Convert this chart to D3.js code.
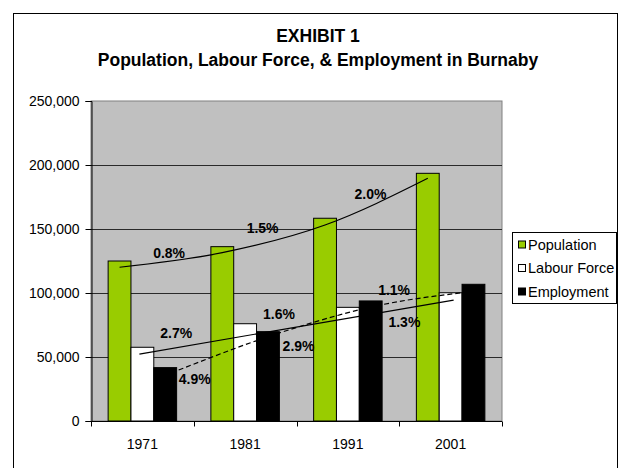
<!DOCTYPE html>
<html>
<head>
<meta charset="utf-8">
<script src="https://cdn.jsdelivr.net/npm/d3@7"></script>
<style>
  html, body { margin: 0; padding: 0; background: #fff; }
  svg { display: block; font-family: Arial, "Liberation Sans", sans-serif; }
</style>
</head>
<body>
<svg id="chart" width="621" height="468"></svg>
<script>
// Census years and the three series (persons)
const years = ["1971", "1981", "1991", "2001"];
const population = [125000, 136200, 158400, 193500];
const labourForce = [57600, 76000, 88800, 100200];
const employment = [41700, 69800, 93800, 106800];

// Growth-trend guides drawn over each series
const populationTrend = [120100, 131500, 153100, 189600];
const labourTrend = [52300, 94500];          // 1971 → 2001
const employmentTrend = [39800, 69300, 91200, 100200];

// Average annual growth rates, anchored at [category position, value]
const growthText = ["0.8%", "1.5%", "2.0%", "2.7%", "1.6%", "4.9%", "2.9%", "1.1%", "1.3%"];
const growthAt = [
  [0.76, 131600], [1.67, 150800], [2.72, 177300],
  [0.83, 68400], [1.83, 83600],
  [1.01, 32800], [2.02, 58600],
  [2.95, 102300], [3.05, 77700]
];

const yTicks = [0, 50000, 100000, 150000, 200000, 250000];

const seriesNames = ["Population", "Labour Force", "Employment"];
const seriesFill = ["#99cc00", "#ffffff", "#000000"];
const seriesValues = [population, labourForce, employment];

const svg = d3.select("#chart");

// outer chart frame
svg.append("rect")
  .attr("x", 13.5).attr("y", 13.5)
  .attr("width", 604).attr("height", 470)
  .attr("fill", "#fff").attr("stroke", "#000").attr("stroke-width", 1);

// titles
svg.append("text").attr("x", 318).attr("y", 42)
  .attr("text-anchor", "middle").attr("font-size", 17.5).attr("font-weight", "bold")
  .text("EXHIBIT 1");
svg.append("text").attr("x", 318).attr("y", 66)
  .attr("text-anchor", "middle").attr("font-size", 17.5).attr("font-weight", "bold")
  .text("Population, Labour Force, & Employment in Burnaby");

const plot = { left: 91, right: 502, top: 101, bottom: 421 };

const x = d3.scaleBand().domain(years).range([plot.left, plot.right]).paddingInner(0).paddingOuter(0);
const y = d3.scaleLinear().domain([0, 250000]).range([plot.bottom, plot.top]);

// bar layout inside each category: 3 bars with a 150% gap
const gap = 1.5;
const barW = x.bandwidth() / (3 + gap);
const barX = (i, s) => x(years[i]) + barW * gap / 2 + s * barW;
// continuous category position (in band units) → pixel
const catPos = p => plot.left + p * x.bandwidth();

// plot area background
svg.append("rect")
  .attr("x", plot.left).attr("y", plot.top)
  .attr("width", plot.right - plot.left).attr("height", plot.bottom - plot.top)
  .attr("fill", "#c0c0c0").attr("stroke", "#808080").attr("stroke-width", 1);

// horizontal gridlines
svg.append("g").selectAll("line").data(yTicks.filter(d => d > 0 && d < 250000)).join("line")
  .attr("x1", plot.left).attr("x2", plot.right)
  .attr("y1", d => Math.round(y(d)) + 0.5).attr("y2", d => Math.round(y(d)) + 0.5)
  .attr("stroke", "#2a2a2a").attr("stroke-width", 1);

// bars
seriesValues.forEach((vals, s) => {
  svg.append("g").selectAll("rect").data(vals).join("rect")
    .attr("x", (d, i) => barX(i, s))
    .attr("y", d => y(d))
    .attr("width", barW)
    .attr("height", d => y(0) - y(d))
    .attr("fill", seriesFill[s])
    .attr("stroke", "#000").attr("stroke-width", 1);
});

// axes
const yAxis = d3.axisLeft(y).tickValues(yTicks).tickSize(6).tickPadding(6)
  .tickFormat(d3.format(","));
const gy = svg.append("g").attr("transform", `translate(${plot.left + 0.5},0)`).call(yAxis);
gy.select(".domain").attr("stroke", "#000");
gy.selectAll(".tick line").attr("stroke", "#000");
gy.selectAll("text").attr("font-size", 14).attr("fill", "#000").attr("font-family", "Arial, 'Liberation Sans', sans-serif");

const gx = svg.append("g").attr("transform", `translate(0,${plot.bottom + 0.5})`);
gx.append("line").attr("x1", plot.left).attr("x2", plot.right).attr("stroke", "#000");
gx.selectAll("line.tick").data(d3.range(years.length + 1)).join("line")
  .attr("class", "tick")
  .attr("x1", i => Math.round(catPos(i)) + 0.5).attr("x2", i => Math.round(catPos(i)) + 0.5)
  .attr("y1", 0).attr("y2", 5).attr("stroke", "#000");
gx.selectAll("text").data(years).join("text")
  .attr("x", d => x(d) + x.bandwidth() / 2)
  .attr("y", 27)
  .attr("text-anchor", "middle").attr("font-size", 14)
  .text(d => d);

// trend guides
const line = d3.line().curve(d3.curveMonotoneX);
svg.append("path")
  .attr("d", line(populationTrend.map((v, i) => [barX(i, 0) + barW / 2, y(v)])))
  .attr("fill", "none").attr("stroke", "#000").attr("stroke-width", 1.2);
svg.append("path")
  .attr("d", line([[barX(0, 1) + barW / 2 - 3, y(labourTrend[0])], [barX(3, 1) + barW / 2 + 3, y(labourTrend[1])]]))
  .attr("fill", "none").attr("stroke", "#000").attr("stroke-width", 1.2);
svg.append("path")
  .attr("d", line(employmentTrend.map((v, i) => [i < 3 ? barX(i, 2) + barW + 2 : barX(i, 2), y(v)])))
  .attr("fill", "none").attr("stroke", "#000").attr("stroke-width", 1.2)
  .attr("stroke-dasharray", "5,3");

// growth-rate labels
svg.append("g").selectAll("text").data(growthText).join("text")
  .attr("x", (d, i) => catPos(growthAt[i][0]))
  .attr("y", (d, i) => y(growthAt[i][1]))
  .attr("dy", "0.36em")
  .attr("text-anchor", "middle")
  .attr("font-size", 14).attr("font-weight", "bold")
  .text(d => d);

// legend
const lg = svg.append("g").attr("transform", "translate(512.5,232.5)");
lg.append("rect").attr("width", 104).attr("height", 71)
  .attr("fill", "#fff").attr("stroke", "#000");
seriesNames.forEach((name, s) => {
  const cy = 12 + s * 23.5;
  lg.append("rect").attr("x", 6).attr("y", cy - 3.5).attr("width", 7).attr("height", 7)
    .attr("fill", seriesFill[s]).attr("stroke", "#000");
  lg.append("text").attr("x", 15.5).attr("y", cy).attr("dy", "0.36em")
    .attr("font-size", 14.5).text(name);
});
</script>
</body>
</html>
